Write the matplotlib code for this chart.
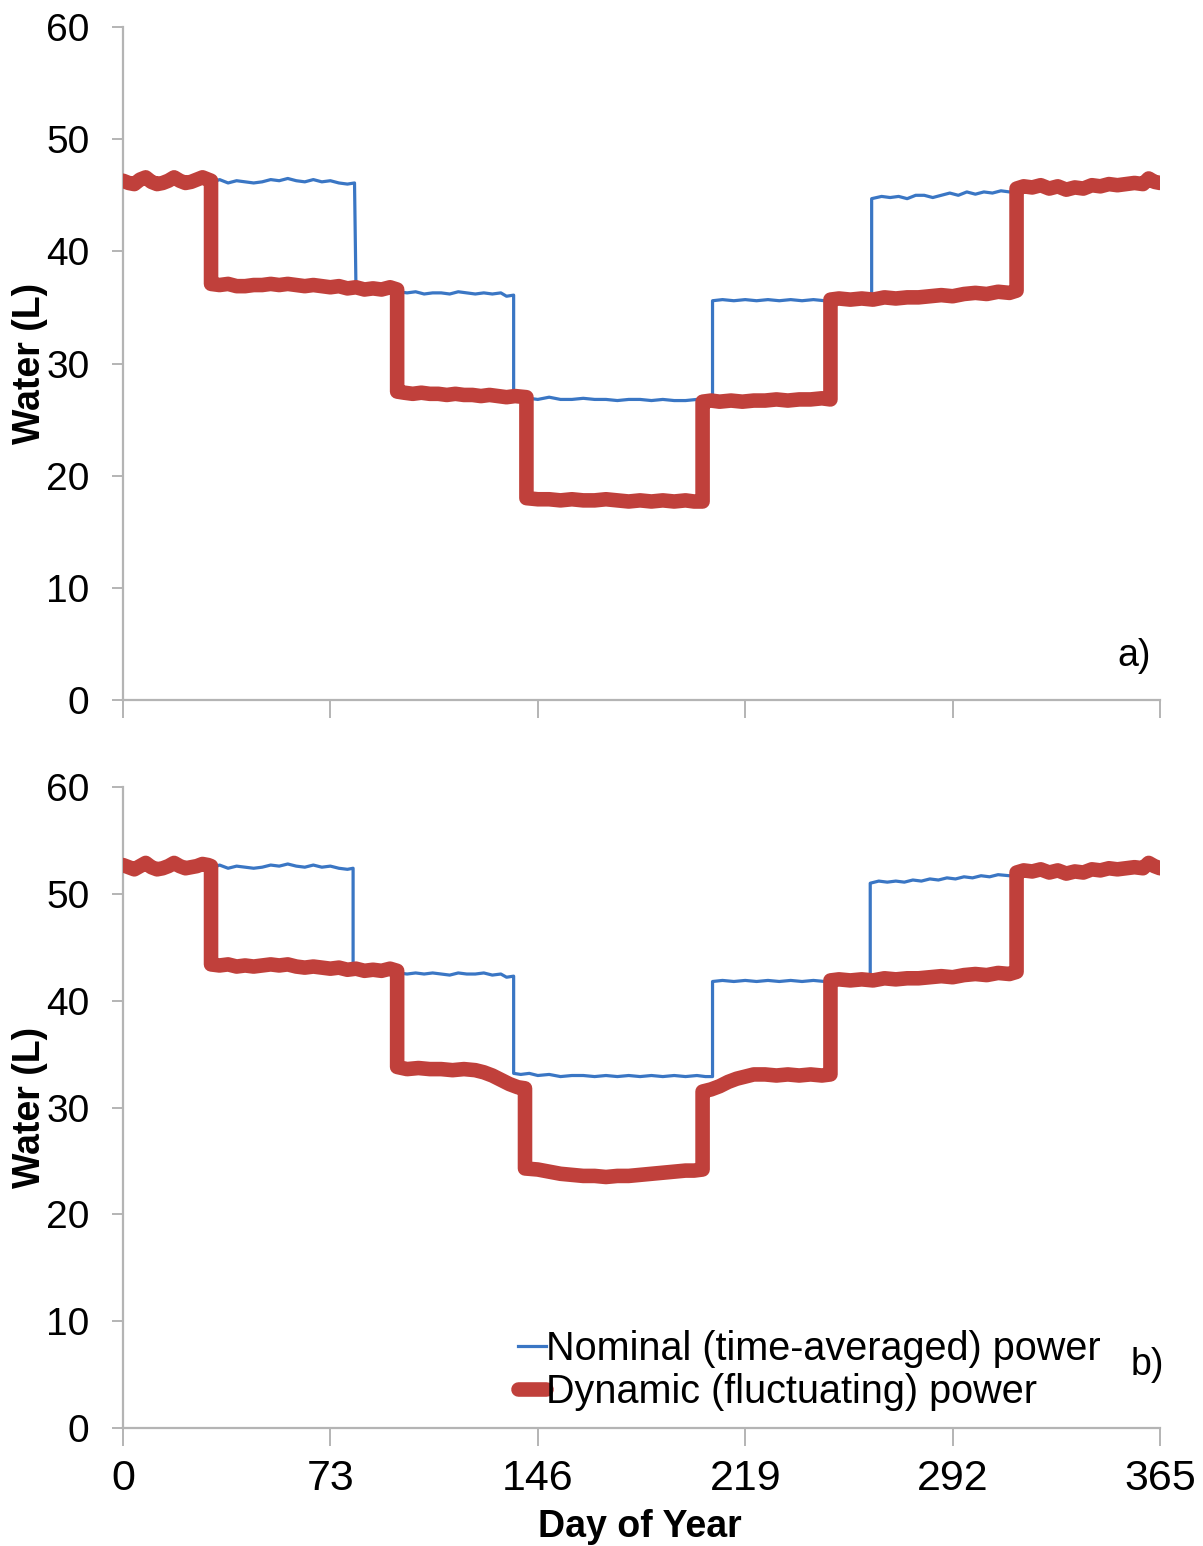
import matplotlib
matplotlib.use("Agg")
import matplotlib.pyplot as plt

plt.rcParams['font.family'] = ['Liberation Sans', 'DejaVu Sans']

# ---- Panel a) ----
nom_a_day = [0, 4, 8, 12, 16, 20, 24, 28, 32, 34, 37, 40, 43, 46, 49, 52, 55, 58, 61, 64, 67, 70, 73, 76, 79, 81.5,
             82, 86, 90, 94, 97, 100, 103, 106, 109, 112, 115, 118, 121, 124, 127, 130, 133, 135, 137.5,
             137.5, 140, 143, 146, 150, 154, 158, 162, 166, 170, 174, 178, 182, 186, 190, 194, 198, 202, 205, 207.5,
             207.5, 211, 215, 219, 223, 227, 231, 235, 239, 243, 247, 250, 254, 258, 263.5,
             263.5, 267, 270, 273, 276, 279, 282, 285, 288, 291, 294, 297, 300, 303, 306, 309, 312, 315, 320, 325,
             330, 335, 340, 345, 350, 355, 360, 365]
nom_a_val = [46.2, 46.1, 46.3, 46.2, 46.0, 46.3, 46.2, 46.3, 46.2, 46.4, 46.1, 46.3, 46.2, 46.1, 46.2, 46.4, 46.3,
             46.5, 46.3, 46.2, 46.4, 46.2, 46.3, 46.1, 46.0, 46.1,
             36.9, 36.8, 36.7, 36.6, 36.4, 36.3, 36.4, 36.2, 36.3, 36.3, 36.2, 36.4, 36.3, 36.2, 36.3, 36.2, 36.3,
             36.0, 36.1,
             27.0, 27.0, 26.9, 26.8, 27.0, 26.8, 26.8, 26.9, 26.8, 26.8, 26.7, 26.8, 26.8, 26.7, 26.8, 26.7, 26.7,
             26.8, 26.7, 26.8,
             35.6, 35.7, 35.6, 35.7, 35.6, 35.7, 35.6, 35.7, 35.6, 35.7, 35.6, 35.7, 35.8, 35.7, 35.8,
             44.7, 44.9, 44.8, 44.9, 44.7, 45.0, 45.0, 44.8, 45.0, 45.2, 45.0, 45.3, 45.1, 45.3, 45.2, 45.4, 45.3,
             45.5, 45.6, 45.5, 45.6, 45.7, 45.7, 45.8, 45.9, 46.0, 46.1, 46.1]

dyn_a_day = [0, 2, 4, 6, 8, 10, 12, 14, 16, 18, 20, 22, 24, 26, 28, 30, 31,
             31, 34, 37, 40, 43, 46, 49, 52, 55, 58, 61, 64, 67, 70, 73, 76, 79, 82, 85, 88, 91, 94, 96.5,
             96.5, 99, 102, 105, 108, 111, 114, 117, 120, 123, 126, 129, 132, 135, 138, 142,
             142, 146, 150, 154, 158, 162, 166, 170, 174, 178, 182, 186, 190, 194, 198, 201, 204,
             204, 207, 210, 214, 218, 222, 226, 230, 234, 238, 242, 246, 249,
             249, 252, 256, 260, 264, 268, 272, 276, 280, 284, 288, 292, 296, 300, 304, 308, 312, 314.5,
             314.5, 317, 320, 323, 326, 329, 332, 335, 338, 341, 344, 347, 350, 353, 356, 359, 361, 363, 365]
dyn_a_val = [46.3, 46.1, 46.0, 46.4, 46.6, 46.2, 46.0, 46.1, 46.3, 46.6, 46.3, 46.1, 46.2, 46.4, 46.6, 46.4, 46.3,
             37.1, 37.0, 37.1, 36.9, 36.9, 37.0, 37.0, 37.1, 37.0, 37.1, 37.0, 36.9, 37.0, 36.9, 36.8, 36.9, 36.7,
             36.8, 36.6, 36.7, 36.6, 36.8, 36.6,
             27.5, 27.4, 27.3, 27.4, 27.3, 27.3, 27.2, 27.3, 27.2, 27.2, 27.1, 27.2, 27.1, 27.0, 27.1, 27.0,
             18.0, 17.9, 17.9, 17.8, 17.9, 17.8, 17.8, 17.9, 17.8, 17.7, 17.8, 17.7, 17.8, 17.7, 17.8, 17.7, 17.7,
             26.6, 26.7, 26.6, 26.7, 26.6, 26.7, 26.7, 26.8, 26.7, 26.8, 26.8, 26.9, 26.8,
             35.7, 35.8, 35.7, 35.8, 35.7, 35.9, 35.8, 35.9, 35.9, 36.0, 36.1, 36.0, 36.2, 36.3, 36.2, 36.4, 36.3,
             36.5,
             45.6, 45.8, 45.7, 45.9, 45.6, 45.8, 45.5, 45.7, 45.6, 45.9, 45.8, 46.0, 45.9, 46.0, 46.1, 46.0, 46.5,
             46.2, 46.1]

# ---- Panel b) ----
nom_b_day = [0, 4, 8, 12, 16, 20, 24, 28, 32, 34, 37, 40, 43, 46, 49, 52, 55, 58, 61, 64, 67, 70, 73, 76, 79, 81,
             81, 85, 89, 93, 97, 100, 103, 106, 109, 112, 115, 118, 121, 124, 127, 130, 133, 135, 137.5,
             137.5, 140, 143, 146, 150, 154, 158, 162, 166, 170, 174, 178, 182, 186, 190, 194, 198, 202, 205, 207.5,
             207.5, 211, 215, 219, 223, 227, 231, 235, 239, 243, 247, 250, 254, 258, 263,
             263, 266, 269, 272, 275, 278, 281, 284, 287, 290, 293, 296, 299, 302, 305, 308, 312, 316, 320, 325,
             330, 335, 340, 345, 350, 355, 360, 365]
nom_b_val = [52.6, 52.5, 52.7, 52.5, 52.4, 52.6, 52.5, 52.6, 52.5, 52.7, 52.4, 52.6, 52.5, 52.4, 52.5, 52.7, 52.6,
             52.8, 52.6, 52.5, 52.7, 52.5, 52.6, 52.4, 52.3, 52.4,
             43.2, 43.0, 42.9, 42.8, 42.6, 42.5, 42.6, 42.5, 42.6, 42.5, 42.4, 42.6, 42.5, 42.5, 42.6, 42.4, 42.5,
             42.2, 42.3,
             33.2, 33.1, 33.2, 33.0, 33.1, 32.9, 33.0, 33.0, 32.9, 33.0, 32.9, 33.0, 32.9, 33.0, 32.9, 33.0, 32.9,
             33.0, 32.9, 32.9,
             41.8, 41.9, 41.8, 41.9, 41.8, 41.9, 41.8, 41.9, 41.8, 41.9, 41.8, 41.9, 42.0, 41.9, 42.0,
             51.0, 51.2, 51.1, 51.2, 51.1, 51.3, 51.2, 51.4, 51.3, 51.5, 51.4, 51.6, 51.5, 51.7, 51.6, 51.8, 51.7,
             51.9, 52.0, 52.0, 52.1, 52.1, 52.2, 52.2, 52.3, 52.3, 52.4, 52.4]

dyn_b_day = [0, 2, 4, 6, 8, 10, 12, 14, 16, 18, 20, 22, 24, 26, 28, 30, 31,
             31, 34, 37, 40, 43, 46, 49, 52, 55, 58, 61, 64, 67, 70, 73, 76, 79, 82, 85, 88, 91, 94, 96.5,
             96.5, 100, 104, 108, 112, 116, 120, 124, 127, 130, 133, 136, 139, 141.5,
             141.5, 146, 150, 154, 158, 162, 166, 170, 174, 178, 182, 186, 190, 194, 198, 201, 204,
             204, 207, 210, 213, 216, 219, 222, 226, 230, 234, 238, 242, 246, 249,
             249, 252, 256, 260, 264, 268, 272, 276, 280, 284, 288, 292, 296, 300, 304, 308, 312, 314.5,
             314.5, 317, 320, 323, 326, 329, 332, 335, 338, 341, 344, 347, 350, 353, 356, 359, 361, 363, 365]
dyn_b_val = [52.7, 52.5, 52.3, 52.6, 52.9, 52.5, 52.3, 52.4, 52.6, 52.9, 52.6, 52.4, 52.5, 52.6, 52.8, 52.7, 52.6,
             43.4, 43.3, 43.4, 43.2, 43.3, 43.2, 43.3, 43.4, 43.3, 43.4, 43.2, 43.1, 43.2, 43.1, 43.0, 43.1, 42.9,
             43.0, 42.8, 42.9, 42.8, 43.0, 42.8,
             33.8, 33.6, 33.7, 33.6, 33.6, 33.5, 33.6, 33.5, 33.3, 33.0, 32.6, 32.2, 31.9, 31.8,
             24.3, 24.2, 24.0, 23.8, 23.7, 23.6, 23.6, 23.5, 23.6, 23.6, 23.7, 23.8, 23.9, 24.0, 24.1, 24.1, 24.2,
             31.5, 31.7, 32.0, 32.4, 32.7, 32.9, 33.1, 33.1, 33.0, 33.1, 33.0, 33.1, 33.0, 33.1,
             41.9, 42.0, 41.9, 42.0, 41.9, 42.1, 42.0, 42.1, 42.1, 42.2, 42.3, 42.2, 42.4, 42.5, 42.4, 42.6, 42.5,
             42.7,
             52.0, 52.2, 52.1, 52.3, 52.0, 52.2, 51.9, 52.1, 52.0, 52.3, 52.2, 52.4, 52.3, 52.4, 52.5, 52.4, 52.9,
             52.6, 52.4]

day_ticks = [0, 73, 146, 219, 292, 365]
water_ticks = [0, 10, 20, 30, 40, 50, 60]

BLUE = '#3a76c4'
RED = '#c0403b'
AXIS_GREY = '#b4b4b4'

fig = plt.figure(figsize=(12.03, 15.46), dpi=100)
ax_a = fig.add_axes([0.1022, 0.5472, 0.8621, 0.4353])
ax_b = fig.add_axes([0.1022, 0.0763, 0.8621, 0.4146])

panels = [(ax_a, nom_a_day, nom_a_val, dyn_a_day, dyn_a_val, 'a)', 356.0, 3.0),
          (ax_b, nom_b_day, nom_b_val, dyn_b_day, dyn_b_val, 'b)', 360.5, 5.0)]

for ax, nd, nv, dd, dv, tag, tag_x, tag_y in panels:
    ax.plot(nd, nv, color=BLUE, lw=2.3, zorder=2, solid_joinstyle='round',
            label='Nominal (time-averaged) power')
    ax.plot(dd, dv, color=RED, lw=10.5, zorder=3, solid_joinstyle='round',
            solid_capstyle='round', label='Dynamic (fluctuating) power')
    ax.set_xlim(0, 365)
    ax.set_ylim(0, 60)
    ax.set_xticks(day_ticks)
    ax.set_yticks(water_ticks)
    for side in ('top', 'right'):
        ax.spines[side].set_visible(False)
    for side in ('left', 'bottom'):
        ax.spines[side].set_color(AXIS_GREY)
        ax.spines[side].set_linewidth(1.6)
    ax.tick_params(axis='y', direction='out', length=8, width=1.4, color=AXIS_GREY,
                   labelsize=28, pad=16)
    ax.tick_params(axis='x', direction='out', length=13, width=1.4, color=AXIS_GREY,
                   labelsize=31, pad=9)
    ax.text(-0.0897, 0.5, 'Water (L)', transform=ax.transAxes, rotation=90,
            ha='center', va='center', fontsize=27, fontweight='bold')
    ax.text(tag_x, tag_y, tag, ha='center', va='baseline', fontsize=27)

ax_a.tick_params(axis='x', labelbottom=False)

fig.text(640 / 1203, 1 - 1537 / 1546, 'Day of Year', ha='center', va='baseline',
         fontsize=27, fontweight='bold')

ax_b.legend(loc='upper left', bbox_to_anchor=(518 / 1203, 1 - 1330 / 1546),
            bbox_transform=fig.transFigure, frameon=False, fontsize=28.5,
            handlelength=0.7, handletextpad=0.0, borderpad=0.0, borderaxespad=0.0,
            labelspacing=0.12)

fig.savefig('out.png', dpi=100)
